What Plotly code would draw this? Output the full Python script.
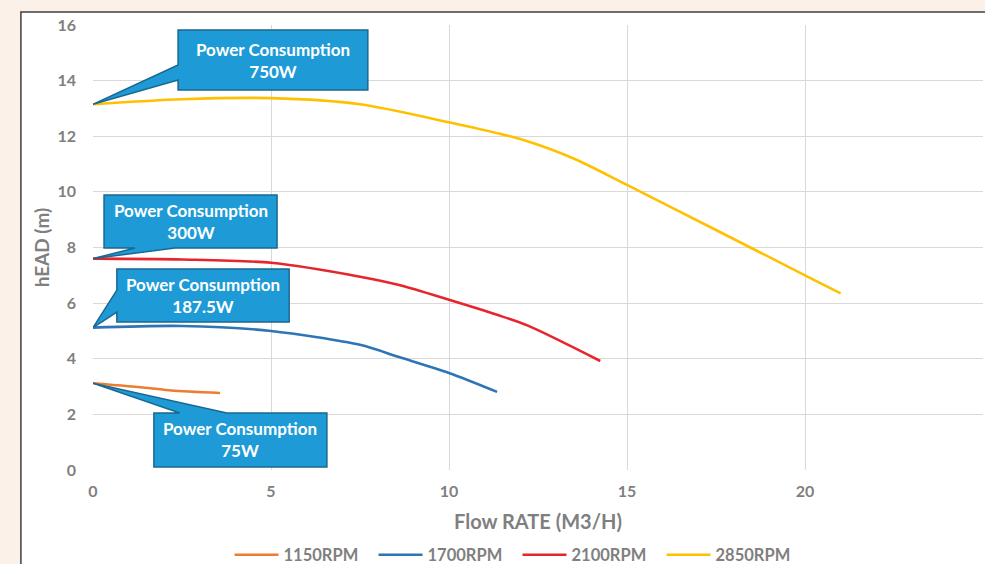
import plotly.graph_objects as go

# ---- data ----
x_1150 = [0, 1.55, 2.2, 3.57]
y_1150 = [3.12, 2.95, 2.86, 2.77]

x_1700 = [0, 2.5, 5, 7.5, 8.6, 10, 11.35]
y_1700 = [5.12, 5.18, 5.0, 4.5, 4.06, 3.49, 2.81]

x_2100 = [0, 2.5, 5, 7.5, 8.6, 10, 11.35, 12.2, 14.25]
y_2100 = [7.6, 7.57, 7.45, 6.95, 6.65, 6.12, 5.58, 5.2, 3.92]

x_2850 = [0, 2.5, 5, 7.5, 10, 12, 13.5, 15, 17.5, 20, 21]
y_2850 = [13.15, 13.33, 13.37, 13.15, 12.5, 11.9, 11.2, 10.25, 8.63, 7.0, 6.35]

series_names = ["1150RPM", "1700RPM", "2100RPM", "2850RPM"]
series_colors = ["#ED7D31", "#2E75B6", "#E5262D", "#FFC000"]
power_labels = ["75W", "187.5W", "300W", "750W"]

x_ticks = [0, 5, 10, 15, 20, 25]
y_ticks = [0, 2, 4, 6, 8, 10, 12, 14, 16]

FONT = "Lato"
GRAY = "#7F7F7F"

fig = go.Figure()
xs = [x_1150, x_1700, x_2100, x_2850]
ys = [y_1150, y_1700, y_2100, y_2850]
for name, col, xv, yv in zip(series_names, series_colors, xs, ys):
    fig.add_trace(go.Scatter(x=xv, y=yv, name=name, mode="lines",
                             line=dict(color=col, width=2.6, shape="spline", smoothing=0.8)))

# callout boxes (data units): box=(x0, x1, ytop, ybot), wedge side and wedge attach points
callouts = [
    dict(label=power_labels[0], tip=(x_1150[0], y_1150[0]), box=(1.71, 6.57, 2.05, 0.11), side="top", w=(2.44, 3.76)),
    dict(label=power_labels[1], tip=(x_1700[0], y_1700[0]), box=(0.67, 5.51, 7.23, 5.32), side="left", w=(6.47, 5.68)),
    dict(label=power_labels[2], tip=(x_2100[0], y_2100[0]), box=(0.31, 5.17, 9.89, 7.98), side="bottom", w=(1.18, 2.30)),
    dict(label=power_labels[3], tip=(x_2850[0], y_2850[0]), box=(2.39, 7.72, 15.82, 13.66), side="left", w=(14.56, 14.02)),
]

shapes = [
    dict(type="rect", xref="paper", yref="paper", x0=-0.081, x1=1.2, y0=-0.5, y1=1.0292,
         fillcolor="white", line=dict(color="#3F3F3F", width=1.5), layer="below"),
]
annotations = []
for c in callouts:
    x0, x1, yt, yb = c["box"]
    tx, ty = c["tip"]
    a, b = c["w"]
    if c["side"] == "left":
        pts = [(x0, yt), (x1, yt), (x1, yb), (x0, yb), (x0, b), (tx, ty), (x0, a)]
    elif c["side"] == "bottom":
        pts = [(x0, yt), (x1, yt), (x1, yb), (b, yb), (tx, ty), (a, yb), (x0, yb)]
    else:
        pts = [(x0, yt), (a, yt), (tx, ty), (b, yt), (x1, yt), (x1, yb), (x0, yb)]
    path = "M " + " L ".join(f"{px},{py}" for px, py in pts) + " Z"
    shapes.append(dict(type="path", xref="x", yref="y", path=path,
                       fillcolor="#1E9BD7", line=dict(color="#1A6890", width=1.5), layer="above"))
    annotations.append(dict(x=(x0 + x1) / 2, y=(yt + yb) / 2, xref="x", yref="y",
                            text="<b>Power Consumption<br>" + c["label"] + "</b>",
                            showarrow=False, font=dict(family=FONT, size=17, color="white"),
                            align="center"))

fig.update_layout(
    width=985, height=564,
    margin=dict(l=93, r=2, t=25, b=94, autoexpand=False),
    paper_bgcolor="#FCF1E8", plot_bgcolor="white",
    font=dict(family=FONT, size=16, color=GRAY),
    shapes=shapes, annotations=annotations,
    showlegend=True,
    legend=dict(orientation="h", x=0.477, xanchor="center", y=-0.191, yanchor="middle",
                font=dict(family=FONT, size=16.5, color=GRAY, weight="bold"),
                bgcolor="rgba(0,0,0,0)", itemwidth=44, tracegroupgap=0,
                entrywidth=85, entrywidthmode="pixels"),
)
fig.update_xaxes(range=[0, 25], tickvals=x_ticks, ticktext=[str(v) for v in x_ticks],
                 automargin=False,
                 showgrid=True, gridcolor="#D9D9D9", gridwidth=1, zeroline=False,
                 showline=False, ticks="", ticklabelstandoff=10,
                 tickfont=dict(family=FONT, size=16, color=GRAY, weight="bold"),
                 title=dict(text="<b>Flow RATE (M3/H)</b>", standoff=15,
                            font=dict(family=FONT, size=20, color=GRAY)))
fig.update_yaxes(range=[0, 16], tickvals=y_ticks, ticktext=[str(v) for v in y_ticks],
                 automargin=False,
                 showgrid=True, gridcolor="#D9D9D9", gridwidth=1, zeroline=False,
                 showline=False, ticks="", ticklabelstandoff=16,
                 tickfont=dict(family=FONT, size=16, color=GRAY, weight="bold"),
                 title=dict(text="<b>hEAD (m)</b>", standoff=2,
                            font=dict(family=FONT, size=19, color=GRAY)))

fig.write_html("out.html", config={"displayModeBar": False},
               post_script="document.body.style.margin='0';document.body.style.overflow='hidden';")
